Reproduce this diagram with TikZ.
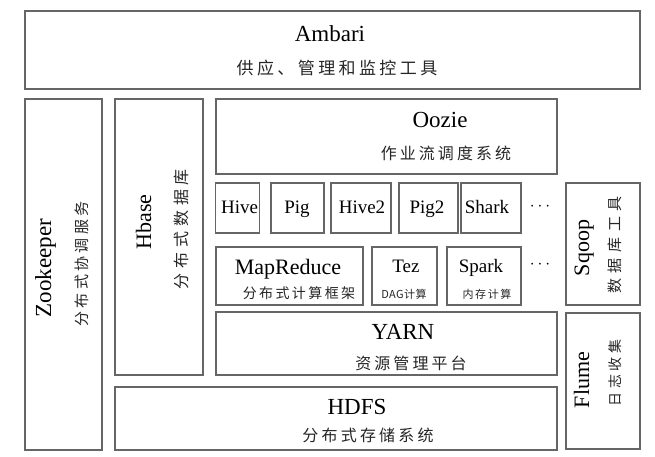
\documentclass[tikz,border=0pt]{standalone}
\usepackage{fontspec}
\setmainfont{Liberation Serif}
\newfontfamily\cjk{Noto Sans CJK SC}
\newcommand\zhf[2]{\cjk\fontsize{#1}{#1}\selectfont\addfontfeature{LetterSpace=#2}}
\newcommand\enf[1]{\fontsize{#1}{#1}\selectfont}
\begin{document}
\begin{tikzpicture}[x=1pt,y=-1pt,
  box/.style={draw=black!60, line width=1.1pt, inner sep=0pt, outer sep=0pt, anchor=center},
  lat/.style={inner sep=0pt, anchor=base},
  zh/.style={inner sep=0pt, anchor=center, text=black!85},
  vlat/.style={inner sep=0pt, anchor=base, rotate=90},
  vzh/.style={inner sep=0pt, anchor=center, rotate=90, text=black!85}]
\useasboundingbox[fill=white] (0,0) rectangle (655,456);
% boxes
\node[box, minimum width=615, minimum height=78] (ambari) at (332.5,50) {};
\node[box, minimum width=77, minimum height=351] (zoo) at (63.5,274.5) {};
\node[box, minimum width=88, minimum height=276] (hbase) at (159,237) {};
\node[box, minimum width=341, minimum height=75] (oozie) at (386.5,136.5) {};
\node[box, minimum width=44, minimum height=50] (hive) at (237.5,208) {};
\node[box, minimum width=53, minimum height=50] (pig) at (297.5,208) {};
\node[box, minimum width=60, minimum height=50] (hive2) at (361,208) {};
\node[box, minimum width=59, minimum height=50] (pig2) at (428.5,208) {};
\node[box, minimum width=60, minimum height=50] (shark) at (491,208) {};
\node[box, minimum width=147, minimum height=58] (mr) at (289.5,276) {};
\node[box, minimum width=65, minimum height=58] (tez) at (404.5,276) {};
\node[box, minimum width=74, minimum height=58] (spark) at (484,276) {};
\node[box, minimum width=74, minimum height=122] (sqoop) at (603,244) {};
\node[box, minimum width=341, minimum height=63] (yarn) at (386.5,343.5) {};
\node[box, minimum width=74, minimum height=136] (flume) at (603,381) {};
\node[box, minimum width=442, minimum height=63] (hdfs) at (336,418.5) {};
% texts
\node[lat, font=\enf{23}] (tambari) at (330,41) {Ambari};
\node[zh, font=\zhf{17}{20}] (zambari) at (337,68) {供应、管理和监控工具};
\node[lat, font=\enf{23}] (toozie) at (440,127) {Oozie};
\node[zh, font=\zhf{16}{19}] (zoozie) at (446,153) {作业流调度系统};
\node[lat, font=\enf{19}] (thive) at (239.5,213) {Hive};
\node[lat, font=\enf{19}] (tpig) at (297,213) {Pig};
\node[lat, font=\enf{19}] (thive2) at (362,213) {Hive2};
\node[lat, font=\enf{19}] (tpig2) at (427,213) {Pig2};
\node[lat, font=\enf{19}] (tshark) at (487,213) {Shark};
\node[inner sep=0pt, font=\enf{16}] (dots1) at (540,207) {$\cdots$};
\node[lat, font=\enf{22}] (tmr) at (288,274) {MapReduce};
\node[zh, font=\zhf{14}{17}] (zmr) at (299,293) {分布式计算框架};
\node[lat, font=\enf{19}] (ttez) at (406,272) {Tez};
\node[zh, font=\zhf{11}{4}] (ztez) at (404,294) {DAG计算};
\node[lat, font=\enf{19}] (tspark) at (481,272) {Spark};
\node[zh, font=\zhf{11}{15}] (zspark) at (487,294) {内存计算};
\node[inner sep=0pt, font=\enf{16}] (dots2) at (540,265) {$\cdots$};
\node[lat, font=\enf{23}] (tyarn) at (403,339) {YARN};
\node[zh, font=\zhf{16}{19}] (zyarn) at (411,363) {资源管理平台};
\node[lat, font=\enf{23}] (thdfs) at (357,414) {HDFS};
\node[zh, font=\zhf{16}{20}] (zhdfs) at (368,435) {分布式存储系统};
\node[vlat, font=\enf{23}] (tzoo) at (51,268) {Zookeeper};
\node[vzh, font=\zhf{15}{22}] (zzoo) at (82,264) {分布式协调服务};
\node[vlat, font=\enf{22}] (thbase) at (151,222) {Hbase};
\node[vzh, font=\zhf{16}{30}] (zhbase) at (181,229) {分布式数据库};
\node[vlat, font=\enf{22}] (tsqoop) at (589,248) {Sqoop};
\node[vzh, font=\zhf{15}{38}] (zsqoop) at (615,245) {数据库工具};
\node[vlat, font=\enf{22}] (tflume) at (589,380) {Flume};
\node[vzh, font=\zhf{14}{28}] (zflume) at (615,373) {日志收集};
\end{tikzpicture}
\end{document}
